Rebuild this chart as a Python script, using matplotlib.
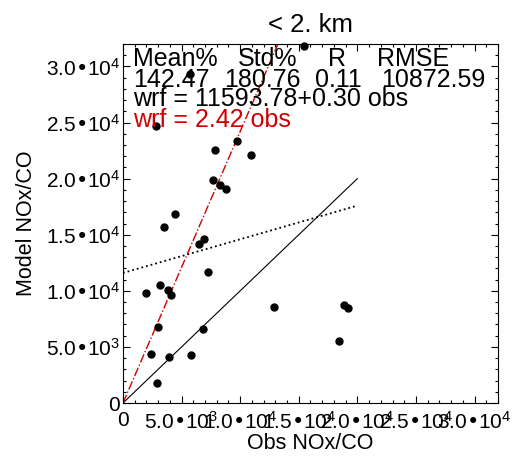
import matplotlib
matplotlib.use('Agg')
import matplotlib.pyplot as plt

plt.rcParams['font.family'] = ['Liberation Sans', 'DejaVu Sans']
plt.rcParams['mathtext.default'] = 'regular'

# observed vs model NOx/CO, below 2 km
obs = [2820, 9720, 7810, 10910, 7720, 8260, 8780, 4440, 3500, 6950,
       6500, 7260, 3160, 1970, 3880, 4080, 12900, 3020, 6840, 2390,
       3960, 5790, 2900, 18830, 19170, 18460, 15410, 5730]
model = [24730, 23400, 22510, 22150, 19840, 19400, 19100, 16840, 15690, 14650,
         14210, 11650, 10500, 9810, 10110, 9670, 8570, 6790, 6640, 4360,
         4060, 4270, 1810, 8780, 8425, 5516, 31850, 29330]

fit_a, fit_b = 11593.78, 0.30
fit0_b = 2.42
line_end = 20000

ticks = [0, 5000, 10000, 15000, 20000, 25000, 30000]
tick_labels = ['0', '5.0•10$^3$', '1.0•10$^4$', '1.5•10$^4$',
               '2.0•10$^4$', '2.5•10$^4$', '3.0•10$^4$']

stats_head = ['Mean%', 'Std%', 'R', 'RMSE']
stats_vals = ['142.47', '180.76', '0.11', '10872.59']
red = '#d10000'

fig = plt.figure(figsize=(5.12, 4.61), dpi=100)
ax = fig.add_axes([0.2402, 0.1258, 0.7324, 0.7787])

ax.plot(obs, model, 'o', color='black', ms=5, clip_on=False, zorder=3)
ax.plot([0, line_end], [0, line_end], '-', color='black', lw=0.8)
ax.plot([0, line_end], [fit_a, fit_a + fit_b * line_end], ':', color='black', lw=1.3)
ax.plot([0, line_end], [0, fit0_b * line_end], '-.', color=red, lw=1.0)

ax.set_xlim(0, 32000)
ax.set_ylim(0, 32000)
ax.set_xticks(ticks)
ax.set_xticklabels(tick_labels)
ax.set_yticks(ticks)
ax.set_yticklabels(tick_labels)
ax.set_xticks(range(0, 32001, 1000), minor=True)
ax.set_yticks(range(0, 32001, 1000), minor=True)
ax.tick_params(which='both', direction='in', top=True, right=True, labelsize=15)
ax.tick_params(axis='x', pad=6)
ax.tick_params(axis='y', pad=2)
ax.tick_params(which='major', length=5, width=0.8)
ax.tick_params(which='minor', length=2.5, width=0.8)

ax.set_title('< 2. km', fontsize=18.5, pad=9)
ax.set_xlabel('Obs NOx/CO', fontsize=15.5, labelpad=0)
ax.set_ylabel('Model NOx/CO', fontsize=15.5, labelpad=6)

# stats text block
fs = 18
for x, s in zip([133, 238, 328, 377], stats_head):
    fig.text(x / 512, 1 - 66 / 461, s, fontsize=fs, va='baseline')
for x, s in zip([133, 224, 315, 381], stats_vals):
    fig.text(x / 512, 1 - 87 / 461, s, fontsize=fs, va='baseline')
fig.text(133 / 512, 1 - 106 / 461, 'wrf = %.2f+%.2f obs' % (fit_a, fit_b), fontsize=fs, va='baseline')
fig.text(133 / 512, 1 - 127 / 461, 'wrf = %.2f obs' % fit0_b, fontsize=fs, va='baseline', color=red)

fig.savefig('out.png', dpi=100)
